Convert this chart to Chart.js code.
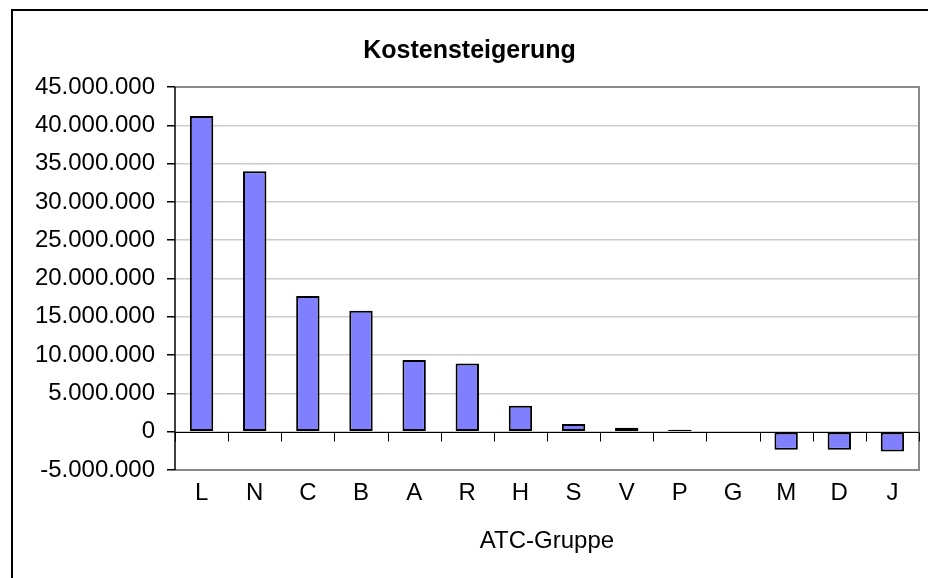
<!DOCTYPE html>
<html>
<head>
<meta charset="utf-8">
<title>Kostensteigerung</title>
<script src="https://cdn.jsdelivr.net/npm/chart.js@4/dist/chart.umd.min.js"></script>
<style>
  body { margin: 0; background: #fff; }
  #wrap { position: relative; width: 928px; height: 578px; overflow: hidden; }
  #frame { position: absolute; left: 11px; top: 9px; width: 1000px; height: 1000px;
    border-left: 2px solid #000; border-top: 2px solid #000; }
  canvas { position: absolute; left: 0; top: 0; }
</style>
</head>
<body>
<div id="wrap">
  <div id="frame"></div>
  <canvas id="my-chart" width="928" height="578"></canvas>
</div>
<script>
'use strict';

// ******GLOBALS / DATA******
let categories = ['L', 'N', 'C', 'B', 'A', 'R', 'H', 'S', 'V', 'P', 'G', 'M', 'D', 'J'];

let costIncrease = [41200000, 34000000, 17700000, 15800000, 9350000, 8900000, 3400000,
  1000000, 520000, 260000, 0, -2350000, -2350000, -2600000];

let yTicks = [-5000000, 0, 5000000, 10000000, 15000000, 20000000, 25000000,
  30000000, 35000000, 40000000, 45000000];

let chartTitle = 'Kostensteigerung';
let xTitle = 'ATC-Gruppe';

let fontFamily = '"Liberation Sans", Arial, sans-serif';

// ****** HELPER FUNCTIONS ******
function formatNumber(v) {
  let s = String(Math.abs(v)).replace(/\B(?=(\d{3})+(?!\d))/g, '.');
  return v < 0 ? '-' + s : s;
}

// draws plot frame, zero line and its category ticks
let framePlugin = {
  id: 'framePlugin',
  afterDraw(chart) {
    let ctx = chart.ctx;
    let area = chart.chartArea;
    let x = chart.scales.x;
    let y = chart.scales.y;
    ctx.save();

    // grey frame top / right / bottom
    ctx.strokeStyle = '#8a8a8a';
    ctx.lineWidth = 2;
    ctx.beginPath();
    ctx.moveTo(area.left, area.top);
    ctx.lineTo(area.right, area.top);
    ctx.lineTo(area.right, area.bottom);
    ctx.lineTo(area.left, area.bottom);
    ctx.stroke();

    // zero line
    let y0 = Math.round(y.getPixelForValue(0)) + 0.5;
    ctx.strokeStyle = '#000';
    ctx.lineWidth = 1;
    ctx.beginPath();
    ctx.moveTo(area.left, y0);
    ctx.lineTo(area.right, y0);
    ctx.stroke();

    // tick marks between categories
    let step = (x.getPixelForValue(1) - x.getPixelForValue(0));
    ctx.beginPath();
    for (let i = 0; i <= categories.length; i++) {
      let px = Math.round(x.getPixelForValue(i) - step / 2) + 0.5;
      ctx.moveTo(px, y0);
      ctx.lineTo(px, y0 + 9);
    }
    ctx.stroke();

    // left axis line
    ctx.lineWidth = 1.5;
    ctx.beginPath();
    ctx.moveTo(area.left, area.top);
    ctx.lineTo(area.left, area.bottom);
    ctx.stroke();
    ctx.restore();
  }
};

// ****** CHART ******
let canvasElem = document.getElementById('my-chart').getContext('2d');

let myChartObj = {
  type: 'bar',
  data: {
    labels: categories,
    datasets: [{
      data: costIncrease,
      backgroundColor: '#8080ff',
      borderColor: '#000000',
      borderWidth: 2,
      borderSkipped: false,
      barPercentage: 0.44,
      categoryPercentage: 1.0
    }]
  },
  options: {
    responsive: false,
    animation: false,
    layout: {
      padding: { left: 20, right: 9, top: 0, bottom: 0 }
    },
    plugins: {
      legend: { display: false },
      tooltip: { enabled: false },
      title: {
        display: true,
        text: chartTitle,
        color: '#000',
        font: { family: fontFamily, size: 25, weight: 'bold' },
        padding: { top: 36, bottom: 21 }
      }
    },
    scales: {
      x: {
        offset: true,
        grid: { display: false, drawTicks: false },
        border: { display: false },
        ticks: {
          color: '#000',
          padding: 9,
          font: { family: fontFamily, size: 24 }
        },
        title: {
          display: true,
          text: xTitle,
          color: '#000',
          font: { family: fontFamily, size: 24 },
          padding: { top: 4, bottom: 22 }
        },
        afterFit(scale) {
          scale.height = 108;
        }
      },
      y: {
        min: -5000000,
        max: 45000000,
        afterBuildTicks(scale) {
          scale.ticks = yTicks.map(v => ({ value: v }));
        },
        grid: {
          color: '#cccccc',
          lineWidth: 1.5,
          tickColor: '#000',
          tickLength: 8
        },
        border: { display: false },
        ticks: {
          color: '#000',
          padding: 12,
          font: { family: fontFamily, size: 24 },
          callback: v => formatNumber(v)
        },
        afterFit(scale) {
          scale.width = 155;
        }
      }
    }
  },
  plugins: [framePlugin]
};

new Chart(canvasElem, myChartObj);
</script>
</body>
</html>
